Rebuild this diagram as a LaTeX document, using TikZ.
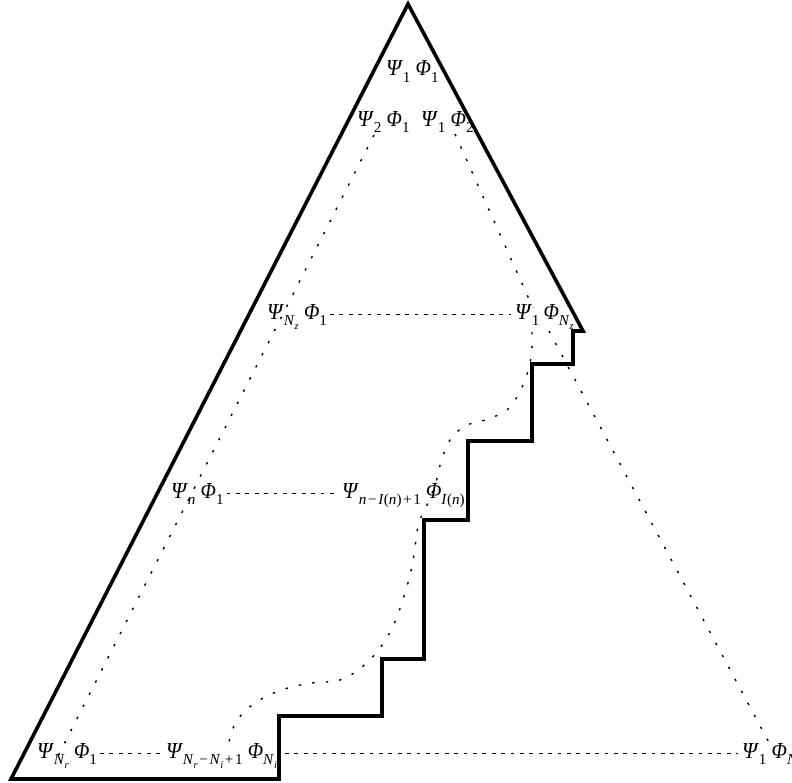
\documentclass[tikz,border=0pt]{standalone}
\usepackage{graphicx}
\usepackage{fontspec}
\setmainfont{Liberation Serif}
\newcommand\Ps{\scalebox{0.95}[1]{\textit{Ψ}}}
\newcommand\Ph{\scalebox{0.88}[1]{\textit{Φ}}}
% first and second level subscripts
\newcommand\sbs[1]{\raisebox{-3.2bp}{\fontsize{7.6}{9}\selectfont #1}}
\newcommand\ssb[1]{\raisebox{-1.8bp}{\fontsize{5.3}{6}\selectfont #1}}
\newcommand\gap{\hspace{2.6bp}}
\newcommand\op[1]{\kern0.8bp#1\kern0.8bp}
\tikzset{
  outline/.style={line width=1.8bp, line join=miter, line cap=butt},
  ddot/.style={line width=0.7bp, dash pattern=on 1.2bp off 5.6bp},
  hdash/.style={line width=0.7bp, dash pattern=on 1.9bp off 2.8bp,
                shorten <=1.5bp, shorten >=2bp},
  lbl/.style={anchor=base west, inner sep=0pt, outer sep=0pt,
              font=\fontsize{11.5}{13}\selectfont},
}
\begin{document}
\begin{tikzpicture}[x=0.5bp, y=-0.5bp]
\useasboundingbox (0,0) rectangle (792,783);

% outer boundary with the staircase
\draw[outline] (408,4) -- (583,331) -- (573,331) -- (573,364) -- (532,364)
  -- (532,441) -- (468,441) -- (468,520) -- (424,520) -- (424,659)
  -- (382,659) -- (382,716) -- (279,716) -- (279,779) -- (11,779) -- cycle;

% labels
\node[lbl] (t)  at (386,76)  {\Ps\sbs{1}\gap\Ph\sbs{1}};
\node[lbl] (l2) at (357,126) {\Ps\sbs{2}\gap\Ph\sbs{1}};
\node[lbl] (r2) at (421,126) {\Ps\sbs{1}\gap\Ph\sbs{2}};
\node[lbl] (lz) at (267,319) {\Ps\sbs{\textit{N}\ssb{\textit{z}}}\gap\Ph\sbs{1}};
\node[lbl] (rz) at (515,319) {\Ps\sbs{1}\hspace{2bp}\Ph\sbs{\textit{N}\ssb{\textit{z}}}};
\node[lbl] (ln) at (171,498) {\Ps\sbs{\textit{n}}\gap\Ph\sbs{1}};
\node[lbl] (mn) at (342,498) {\Ps\sbs{\textit{n}\op{−}\textit{I}(\textit{n})\op{+}1}\gap\Ph\sbs{\textit{I}(\textit{n})}};
\node[lbl] (lr) at (37,758)  {\Ps\sbs{\textit{N}\ssb{\textit{r}}}\gap\Ph\sbs{1}};
\node[lbl] (mr) at (166,758) {\Ps\sbs{\textit{N}\ssb{\textit{r}}\op{−}\textit{N}\ssb{\textit{i}}\op{+}1}\gap\Ph\sbs{\textit{N}\ssb{\textit{i}}}};
\node[lbl] (br) at (742,758) {\Ps\sbs{1}\gap\Ph\sbs{\textit{N}}};

% horizontal dashed rows
\draw[hdash] (lz.mid east) -- (lz.mid east -| rz.mid west);
\draw[hdash] (ln.mid east) -- (ln.mid east -| mn.mid west);
\draw[hdash] (lr.mid east) -- (lr.mid east -| mr.mid west);
\draw[hdash] ([xshift=2.5bp]mr.mid east) -- (mr.mid east -| br.mid west);

% diagonal dotted lines
\coordinate (a1) at (374,135);
\coordinate (a2) at (58,756);
\coordinate (b1) at (455,134);
\coordinate (b2) at (533,308);
\coordinate (c1) at (549,331);
\coordinate (c2) at (773,750);
\draw[ddot] (a1) -- (a2);
\draw[ddot] (b1) -- (b2);
\draw[ddot] (c1) -- (c2);

% winding dotted path
\draw[ddot] plot[smooth, tension=0.6] coordinates {
  (532,332) (531,358) (523,385) (508,409) (485,420) (465,426) (450,440)
  (441,462) (436,482) (428,503) (419,522) (416,540) (412,566) (405,593)
  (394,624) (380,648) (362,667) (340,680) (312,683) (288,688) (265,697)
  (246,710) (234,726) (228,746)};
\end{tikzpicture}
\end{document}
